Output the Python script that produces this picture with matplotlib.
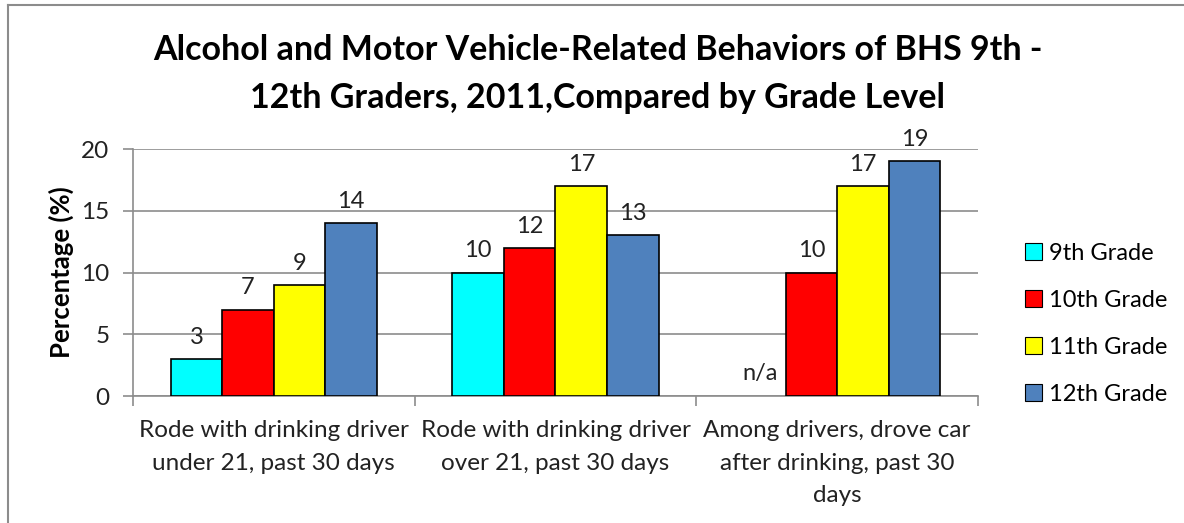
import matplotlib.pyplot as plt
import numpy as np
from matplotlib.patches import Patch
from matplotlib.lines import Line2D

plt.rcParams['font.family'] = ['Lato', 'DejaVu Sans']

categories = ["Rode with drinking driver\nunder 21, past 30 days",
              "Rode with drinking driver\nover 21, past 30 days",
              "Among drivers, drove car\nafter drinking, past 30\ndays"]
grades = ["9th Grade", "10th Grade", "11th Grade", "12th Grade"]
grade9 = [3, 10, None]
grade10 = [7, 12, 10]
grade11 = [9, 17, 17]
grade12 = [14, 13, 19]
colors = ["#00FFFF", "#FF0000", "#FFFF00", "#4F81BD"]

series = [grade9, grade10, grade11, grade12]

fig = plt.figure(figsize=(11.84, 5.23), dpi=100)
ax = fig.add_axes([0.1123, 0.2428, 0.7137, 0.4723])

x = np.arange(len(categories))
w = 0.183
for i, vals in enumerate(series):
    pos = x + (i - 1.5) * w
    for p, v in zip(pos, vals):
        if v is None:
            ax.annotate("n/a", (p, 0), xytext=(0, 9), textcoords="offset points",
                        ha="center", va="bottom", fontsize=17, color="#222222")
            continue
        ax.bar(p, v, width=w, color=colors[i], edgecolor="black", linewidth=1.2, zorder=3)
        ax.annotate(str(v), (p, v), xytext=(0, 8), textcoords="offset points",
                    ha="center", va="bottom", fontsize=17, color="#222222")

ax.set_xlim(-0.5, 2.5)
ax.set_ylim(0, 20)
ax.set_yticks([0, 5, 10, 15, 20])
ax.yaxis.grid(True, color="#8c8c8c", linewidth=1.2, zorder=0)
ax.set_axisbelow(True)
for s in ["top", "right"]:
    ax.spines[s].set_visible(False)
ax.spines["left"].set_color("#8c8c8c")
ax.spines["bottom"].set_color("#8c8c8c")
ax.spines["left"].set_linewidth(1.2)
ax.spines["bottom"].set_linewidth(1.2)

ax.set_xticks([-0.5, 0.5, 1.5, 2.5])
ax.set_xticklabels([])
ax.set_xticks(x, minor=True)
ax.set_xticklabels(categories, minor=True, fontsize=17.5, color="#222222", linespacing=1.7)
ax.tick_params(axis="x", which="major", length=7, color="#8c8c8c", width=1.2)
ax.tick_params(axis="x", which="minor", length=0, pad=17)
ax.tick_params(axis="y", length=7, color="#8c8c8c", width=1.2, labelsize=17.5,
               labelcolor="#222222", pad=10)

ax.set_ylabel("Percentage (%)", fontsize=18.5, fontweight="bold", labelpad=5)

fig.suptitle("Alcohol and Motor Vehicle-Related Behaviors of BHS 9th -\n12th Graders, 2011,Compared by Grade Level",
             x=0.505, y=0.935, fontsize=24.5, fontweight="bold", linespacing=1.6)

handles = [Patch(facecolor=c, edgecolor="black", linewidth=0.8) for c in colors]
fig.legend(handles, grades, loc="center left", bbox_to_anchor=(0.848, 0.381),
           frameon=False, fontsize=17, handlelength=0.7, handleheight=0.7,
           handletextpad=0.3, labelspacing=1.1)

# chart border lines (top and left)
fig.add_artist(Line2D([7.5 / 1184, 1], [1 - 4.5 / 523, 1 - 4.5 / 523],
                      transform=fig.transFigure, color="#8c8c8c", linewidth=1.5))
fig.add_artist(Line2D([7.5 / 1184, 7.5 / 1184], [0, 1 - 4.5 / 523],
                      transform=fig.transFigure, color="#8c8c8c", linewidth=1.5))

fig.savefig("out.png", dpi=100)
